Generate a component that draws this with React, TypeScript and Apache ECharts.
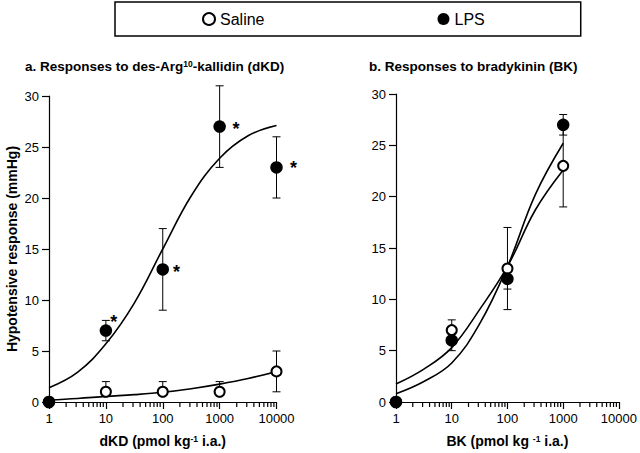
import React, { useEffect, useRef } from 'react';
import * as echarts from 'echarts';

// ---------- data ----------
const doseA = [1, 10, 100, 1000, 10000];
const salineA = [0, 1, 1, 1, 3];
const salineALow = [0, 1, 1, 1, 1];
const salineAHigh = [0, 2, 2, 2, 5];
const lpsA = [0, 7, 13, 27, 23];
const lpsALow = [0, 6, 9, 23, 20];
const lpsAHigh = [0, 8, 17, 31, 26];
const lpsAStar = [false, true, true, true, true];

const doseB = [1, 10, 100, 1000];
const salineB = [0, 7, 13, 23];
const salineBLow = [0, 7, 11, 19];
const salineBHigh = [0, 8, 17, 27];
const lpsB = [0, 6, 12, 27];
const lpsBLow = [0, 5, 9, 26];
const lpsBHigh = [0, 6, 12, 28];

const fitDoseA = [1, 3.16, 10, 31.6, 100, 316, 1000, 3162, 10000];
const salineFitA = [0.2, 0.35, 0.55, 0.72, 0.95, 1.3, 1.75, 2.3, 3.0];
const lpsFitA = [1.4, 2.9, 5.7, 9.7, 15.0, 20.2, 23.9, 26.1, 27.1];

const fitDoseB = [1, 3.16, 10, 31.6, 100, 316, 1000];
const salineFitB = [1.75, 3.2, 5.3, 9.0, 13.2, 18.7, 22.6];
const lpsFitB = [0.8, 2.0, 3.8, 7.6, 13.2, 20.2, 25.2];

const xTickLabels = ['1', '10', '100', '1000', '10000'];
const xMinorTicks = [
  2, 3, 4, 5, 6, 7, 8, 9,
  20, 30, 40, 50, 60, 70, 80, 90,
  200, 300, 400, 500, 600, 700, 800, 900,
  2000, 3000, 4000, 5000, 6000, 7000, 8000, 9000,
];
const yMin = 0;
const yMax = 30;
const yStep = 5;

// ---------- styling ----------
const FONT = '"Liberation Sans", Arial, Helvetica, sans-serif';
const BLACK = '#000';
const MINOR_TICK_LEN = 5;
// asterisk label placement per LPS point in panel a (styling only)
const starOffsets = [
  [0, 0],
  [-2, -9],
  [4, 3],
  [6.5, 2.3],
  [7.3, 0.7],
];

const sup = {
  fontSize: 8.5,
  fontWeight: 'bold',
  fontFamily: FONT,
  color: BLACK,
  verticalAlign: 'top',
  lineHeight: 10,
};

function pairs(xs: number[], ys: number[]) {
  return xs.map((x, i) => [x, ys[i]]);
}
function triples(xs: number[], lo: number[], hi: number[]) {
  return xs.map((x, i) => [x, lo[i], hi[i]]);
}

function errorRender(params: any, api: any) {
  const x = api.value(0);
  const lo = api.value(1);
  const hi = api.value(2);
  if (lo === hi) return null;
  const a = api.coord([x, lo]);
  const b = api.coord([x, hi]);
  const w = 4;
  const style = { stroke: BLACK, lineWidth: 1 };
  return {
    type: 'group',
    children: [
      { type: 'line', shape: { x1: a[0], y1: a[1], x2: b[0], y2: b[1] }, style },
      { type: 'line', shape: { x1: a[0] - w, y1: a[1], x2: a[0] + w, y2: a[1] }, style },
      { type: 'line', shape: { x1: b[0] - w, y1: b[1], x2: b[0] + w, y2: b[1] }, style },
    ],
  };
}

function minorTickRender(params: any, api: any) {
  const p = api.coord([api.value(0), yMin]);
  return {
    type: 'line',
    shape: { x1: p[0], y1: p[1], x2: p[0], y2: p[1] + MINOR_TICK_LEN },
    style: { stroke: BLACK, lineWidth: 1.2 },
  };
}

function xAxisFor(gridIndex: number, name: string) {
  return {
    type: 'log',
    logBase: 10,
    gridIndex,
    min: 1,
    max: 10000,
    position: 'bottom',
    axisLine: { show: true, onZero: false, lineStyle: { color: BLACK, width: 1.2 } },
    axisTick: { show: true, length: 7, lineStyle: { color: BLACK, width: 1.2 } },
    splitLine: { show: false },
    axisLabel: {
      show: true,
      margin: 10,
      fontSize: 13,
      fontFamily: FONT,
      color: BLACK,
      formatter: (v: number) => {
        const idx = Math.round(Math.log10(v));
        return xTickLabels[idx] ?? '';
      },
    },
    name,
    nameLocation: 'middle',
    nameGap: 32,
    nameTextStyle: {
      fontSize: 14,
      fontWeight: 'bold',
      fontFamily: FONT,
      color: BLACK,
      rich: { sup },
    },
  };
}

function yAxisFor(gridIndex: number, name: string) {
  return {
    type: 'value',
    gridIndex,
    min: yMin,
    max: yMax,
    interval: yStep,
    axisLine: { show: true, onZero: false, lineStyle: { color: BLACK, width: 1.2 } },
    axisTick: { show: true, length: 7, lineStyle: { color: BLACK, width: 1.2 } },
    splitLine: { show: false },
    axisLabel: { show: true, margin: 10, fontSize: 13, fontFamily: FONT, color: BLACK },
    name,
    nameLocation: 'middle',
    nameRotate: 90,
    nameGap: 30,
    nameTextStyle: { fontSize: 14, fontWeight: 'bold', fontFamily: FONT, color: BLACK },
  };
}

function fitLine(xi: number, xs: number[], ys: number[]) {
  return {
    type: 'line',
    xAxisIndex: xi,
    yAxisIndex: xi,
    data: pairs(xs, ys),
    smooth: 0.4,
    symbol: 'none',
    lineStyle: { color: BLACK, width: 1.6, opacity: 1 },
    z: 2,
    silent: true,
  };
}

function errSeries(xi: number, data: number[][]) {
  return {
    type: 'custom',
    xAxisIndex: xi,
    yAxisIndex: xi,
    data,
    encode: { x: 0, y: [1, 2] },
    renderItem: errorRender,
    z: 2,
    silent: true,
  };
}

function minorTickSeries(xi: number) {
  return {
    type: 'custom',
    xAxisIndex: xi,
    yAxisIndex: xi,
    data: xMinorTicks.map((v) => [v, yMin]),
    encode: { x: 0, y: 1 },
    renderItem: minorTickRender,
    clip: false,
    z: 5,
    silent: true,
  };
}

const openStyle = { color: '#fff', borderColor: BLACK, borderWidth: 2, opacity: 1 };
const filledStyle = { color: BLACK, borderColor: BLACK, borderWidth: 0, opacity: 1 };

export default function App() {
  const ref = useRef<HTMLDivElement>(null);

  useEffect(() => {
    if (!ref.current) return;
    const chart = echarts.init(ref.current, undefined, { renderer: 'svg' });

    const lpsAData = doseA.map((x, i) => ({
      value: [x, lpsA[i]],
      label: {
        show: lpsAStar[i],
        formatter: '*',
        position: 'right',
        distance: 0,
        offset: starOffsets[i],
        fontSize: 18,
        fontWeight: 'bold',
        fontFamily: FONT,
        color: BLACK,
      },
    }));

    const option: any = {
      animation: false,
      backgroundColor: '#fff',
      textStyle: { fontFamily: FONT },
      title: [
        {
          text: 'a. Responses to des-Arg{sup|10}-kallidin (dKD)',
          left: 25,
          top: 59,
          padding: 0,
          textStyle: {
            fontSize: 13.5,
            fontWeight: 'bold',
            fontFamily: FONT,
            color: BLACK,
            rich: { sup },
          },
        },
        {
          text: 'b. Responses to bradykinin (BK)',
          left: 369,
          top: 59,
          padding: 0,
          textStyle: { fontSize: 13.5, fontWeight: 'bold', fontFamily: FONT, color: BLACK },
        },
      ],
      legend: {
        left: 115,
        top: 2,
        orient: 'horizontal',
        padding: [9, 96, 9, 87],
        itemGap: 173,
        itemWidth: 12,
        itemHeight: 12,
        borderColor: BLACK,
        borderWidth: 1.5,
        borderRadius: 0,
        backgroundColor: '#fff',
        selectedMode: false,
        textStyle: { fontSize: 16, fontFamily: FONT, color: BLACK },
        data: [
          { name: 'Saline', icon: 'circle', itemStyle: openStyle },
          { name: 'LPS', icon: 'circle', itemStyle: filledStyle },
        ],
      },
      grid: [
        { left: 49, right: 363.5, top: 96, bottom: 48.5, containLabel: false },
        { left: 396, right: 17.3, top: 94, bottom: 50.7, containLabel: false },
      ],
      xAxis: [
        xAxisFor(0, 'dKD (pmol kg{sup|-1} i.a.)'),
        xAxisFor(1, 'BK (pmol kg {sup|-1} i.a.)'),
      ],
      yAxis: [yAxisFor(0, 'Hypotensive response (mmHg)'), yAxisFor(1, '')],
      series: [
        minorTickSeries(0),
        minorTickSeries(1),
        fitLine(0, fitDoseA, salineFitA),
        fitLine(0, fitDoseA, lpsFitA),
        fitLine(1, fitDoseB, salineFitB),
        fitLine(1, fitDoseB, lpsFitB),
        errSeries(0, triples(doseA, salineALow, salineAHigh)),
        errSeries(0, triples(doseA, lpsALow, lpsAHigh)),
        errSeries(1, triples(doseB, salineBLow, salineBHigh)),
        errSeries(1, triples(doseB, lpsBLow, lpsBHigh)),
        {
          name: 'Saline',
          type: 'scatter',
          xAxisIndex: 0,
          yAxisIndex: 0,
          data: pairs(doseA, salineA),
          symbol: 'circle',
          symbolSize: 10,
          itemStyle: openStyle,
          z: 3,
        },
        {
          name: 'LPS',
          type: 'scatter',
          xAxisIndex: 0,
          yAxisIndex: 0,
          data: lpsAData,
          symbol: 'circle',
          symbolSize: 12.5,
          itemStyle: filledStyle,
          z: 4,
        },
        {
          name: 'Saline',
          type: 'scatter',
          xAxisIndex: 1,
          yAxisIndex: 1,
          data: pairs(doseB, salineB),
          symbol: 'circle',
          symbolSize: 10,
          itemStyle: openStyle,
          z: 3,
        },
        {
          name: 'LPS',
          type: 'scatter',
          xAxisIndex: 1,
          yAxisIndex: 1,
          data: pairs(doseB, lpsB),
          symbol: 'circle',
          symbolSize: 12.5,
          itemStyle: filledStyle,
          z: 4,
        },
      ],
    };

    chart.setOption(option);
    return () => {
      chart.dispose();
    };
  }, []);

  return (
    <div
      ref={ref}
      style={{ position: 'fixed', left: 0, top: 0, width: 640, height: 453, background: '#fff' }}
    />
  );
}
